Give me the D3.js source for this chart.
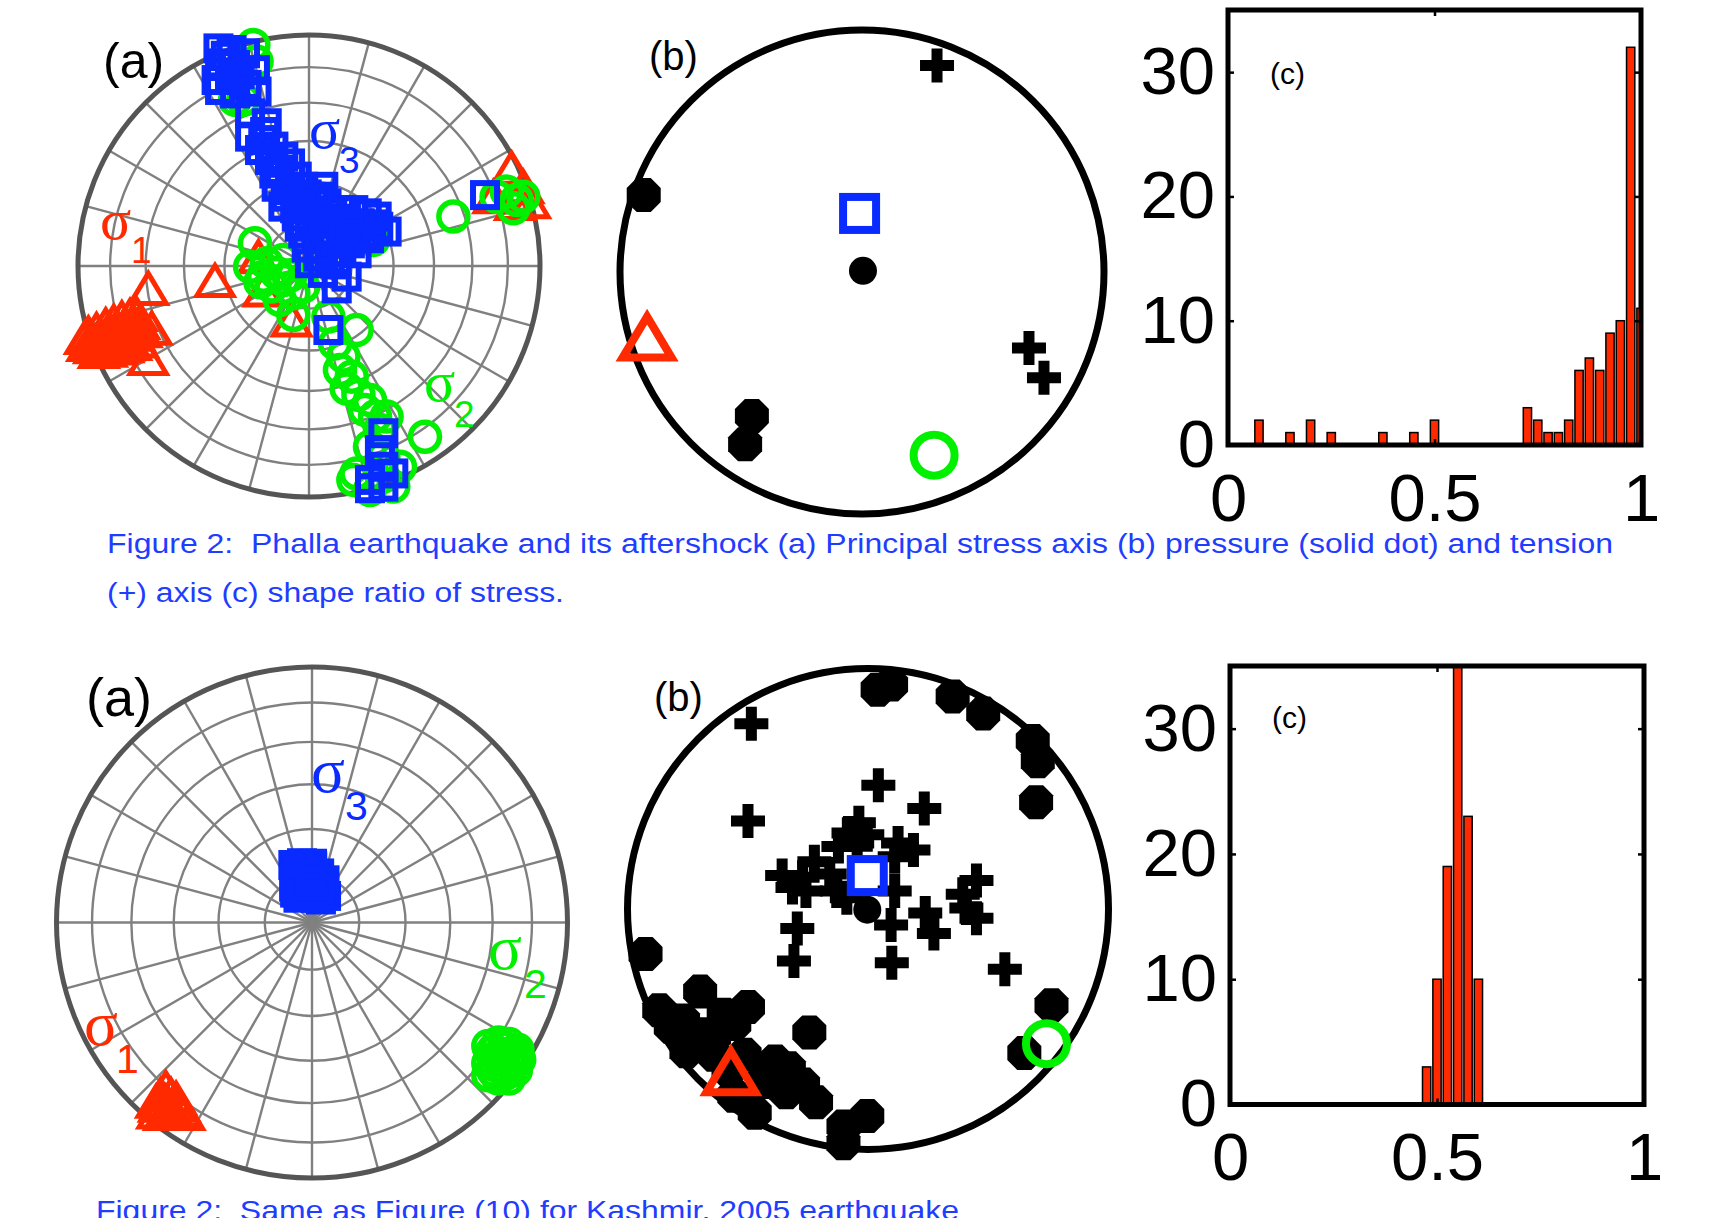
<!DOCTYPE html>
<html>
<head>
<meta charset="utf-8">
<script src="https://cdnjs.cloudflare.com/ajax/libs/d3/7.8.5/d3.min.js"></script>
<style>
body { margin: 0; background: #fff; }
svg { display: block; }
text { font-family: "Liberation Sans", Arial, Helvetica, sans-serif; }
</style>
</head>
<body>
<svg id="fig" width="1709" height="1218"></svg>
<script>
// ---- data (stereonet positions in % of net radius, x east / y north) ----

// top panel (a): Phalla
let topSigma1 = [
  [-95.5,-29],[-92,-27.5],[-88,-25.5],[-84.5,-24],[-81,-22.5],[-77.5,-21.5],[-74.5,-21],
  [-94,-32],[-90.5,-30.5],[-87,-29],[-83.5,-28],[-80,-26.5],[-76.5,-25],[-73.5,-24.5],
  [-93,-35],[-89.5,-34],[-86,-33],[-82.5,-31.5],[-79,-30.5],[-75.5,-29.5],[-72.5,-28],
  [-91,-37],[-87.5,-36.5],[-84,-35.5],[-80.5,-34.5],[-77,-33.5],[-74,-32.5],[-97,-31],[-96,-34],
  [-69.6,-9.7],[-68.1,-27],[-69.6,-40],[-40.7,-6.3],[-21.9,4.0],[-19.8,-10.4],[-7.5,-23.4],
  [87.7,42.3],[92.8,34.3],[95.7,27.8],[89.2,27.1],[79.8,30.0]
];
let topSigma2 = [
  [-24.1,95.7],[-22.7,88.5],[-28.4,71.9],[-32.0,71.9],
  [-23.4,9.8],[-25.5,-0.3],[-19.8,-4.6],[-16.2,-8.9],[-11.1,-6.1],[-6.8,-11.8],[-2.5,-8.9],
  [-12.6,-14.7],[-6.8,-21.2],[-18.3,1.2],[-11.1,2.6],[-14,-3],[-21,-7],[-8,-4],
  [62.5,21.4],[81.2,30.0],[85.6,32.2],[89.9,28.6],[88.5,25.0],[92.8,30.0],[27.8,11.3],
  [8.4,-21.9],[20.6,-27.7],[11.3,-33.5],[14.9,-39.2],[13.4,-45.0],[18.5,-47.9],[16.3,-53.0],
  [21.4,-55.8],[26.4,-58.0],[24.2,-62.3],[28.6,-65.2],[33.6,-65.2],[30.7,-71.0],[50.2,-73.9],
  [26.4,-78.2],[32.2,-82.5],[20.6,-89.8],[32.2,-91.2],[39.4,-86.9],[36.5,-95.5],[26.4,-97.0],[19.2,-92.6]
];
let topSigma3 = [
  [-39.2,94.2],[-33.5,93.5],[-27.7,92.1],[-38.5,87.7],[-32.0,87.0],[-23.4,84.8],[-40.0,80.5],
  [-34.2,80.5],[-27.0,78.4],[-38.5,76.2],[-22.7,75.5],[-32.0,74.7],[-36,91],[-30,83],
  [-25.5,66.1],[-18.3,61.8],[-25.5,56.0],[-19.8,54.5],[-21.2,50.2],[-15.4,51.7],[-16.9,45.9],
  [-11.1,47.3],[-12.6,41.6],[-8.2,44.4],[-5.3,38.7],[-2.5,34.3],[-8.2,32.9],[-3.9,28.6],[1.9,28.6],
  [7.6,27.1],[13.4,24.2],[19.2,24.2],[25.0,22.8],[29.3,21.4],[33.6,14.9],[-5.3,21.4],[0.4,19.9],
  [6.2,19.9],[12.0,18.5],[17.7,17.0],[23.5,14.1],[-2.5,14.1],[3.3,12.7],[10.5,11.3],[17.7,9.8],
  [20.6,5.5],[0.4,1.2],[12.0,2.6],[16.3,-4.6],[12.0,-9.7],[8.4,-27.7],[76.2,30.7],[6.2,34.3],
  [-14.0,34.3],[-11.1,25.7],
  [2,24],[10,23],[16,20.5],[22,18.5],[27,18],[-1,8],[6,8],[14,6],[8,15],[4,4],[15,14],
  [20,12],[26,12],[30,17],[-8,38],[-10,30],[-6,25],[-1,31],[4,30],[-4,17],[9,3],[6,-3],[-15,40],[-19,58],
  [32.2,-72.4],[30.7,-79.7],[32.2,-86.9],[36.5,-89.8],[26.4,-92.6],[32.2,-95.5],[26.4,-96.2]
];

// bottom panel (a): Kashmir 2005
let botSigma1 = [
  [-57.2,-64.7],[-59.2,-67.4],[-55.2,-67.4],[-61,-70],[-57.5,-70],[-53.5,-70.5],[-59.9,-71.5],
  [-55.9,-71.5],[-51.8,-71.5],[-60.6,-74.2],[-57.9,-74.8],[-53.9,-74.8],[-49.9,-74.8],
  [-53.2,-68.8],[-51.1,-73.5],[-56.5,-73],[-58.5,-69.5]
];
let botSigma2 = [
  [69.0,-48.3],[73.0,-47.0],[77.1,-47.6],[80.4,-49.7],[81.1,-53.7],[79.8,-57.8],[77.1,-61.1],
  [73.0,-61.1],[69.0,-59.8],[69.0,-55.1],[73.0,-52.4],[77.1,-53.7],[74.4,-57.1],[70.3,-51.0],[78.4,-51.0],
  [71,-50],[75,-49],[79,-55],[72,-56],[76,-59],[71,-58],[75,-54],[80,-52]
];
let botSigma3 = [
  [-7.3,22.5],[-3.9,23.2],[0.1,21.9],[2.8,19.2],[4.9,16.5],[4.2,12.4],[1.5,9.7],[-2.6,10.4],
  [-6.6,11.7],[-5.9,16.5],[-2.6,17.8],[0.8,15.1],[-3.9,13.8],[3.5,9.0],[-6.6,20.5],[-1.2,19.8],
  [1.5,12.4],[-5.3,9.7],[5.5,10.4],[-4.5,20],[2,17],[-1,12.5],[-4.5,11],[3,14],[-7,14],[0,23],[-0.5,16]
];

// panel (b): P axes (solid dots), T axes (+), best solution markers
let topPAxes = [[-90.2,31.8],[-45.5,-59.5],[-48.3,-71.2]];
let topTAxes = [[31.0,85.3],[69.0,-31.4],[75.2,-43.7]];
let topBestP = [0.4,0.5];
let topBestS1 = [-88.8,-26.9];
let topBestS2 = [29.8,-75.7];
let topBestS3 = [-1.0,24.2];

let botPAxes = [
  [4.0,91.2],[9.6,93.3],[35.2,88.4],[47.9,81.3],[68.5,69.9],[70.6,61.4],[69.9,44.4],[-92.5,-18.7],
  [-86.8,-42.1],[-69.8,-34.3],[-76.9,-46.4],[-49.9,-40.7],[-55.6,-47.8],[-69.8,-52.1],[-75.5,-59.1],
  [-64.1,-60.6],[-51.3,-60.6],[-38.6,-63.4],[-32.9,-66.2],[-44.0,-71.9],[-34.0,-76.2],[-21.6,-80.4],
  [-47.1,-84.7],[-10.2,-90.4],[-0.3,-86.1],[-10.2,-97.4],[-24.4,-51.3],[-55.6,-77.6],[76.3,-40.0],[65.0,-59.9],
  [-60,-44],[-82,-49],[-64,-53],[-40,-70],[-27,-73],[-58,-67]
];
let botTAxes = [
  [-48.5,77.0],[-49.9,36.6],[4.3,51.5],[23.4,41.8],[-3.8,35.9],[-8.1,31.6],[-0.3,30.9],[-12.3,26.0],
  [-4.5,27.4],[12.5,27.4],[18.9,24.5],[-22.3,19.6],[-35.7,13.9],[-27.2,13.2],[-31.4,8.9],[-25.8,7.5],
  [-15.9,14.6],[-13.0,7.5],[-8.8,4.7],[11.1,7.5],[11.1,21.7],[45.1,11.8],[39.4,6.1],[45.1,-3.8],
  [40.9,0.4],[23.8,-1.7],[27.4,-10.2],[9.6,-6.7],[-29.4,-8.1],[-30.8,-21.6],[9.9,-22.3],[56.9,-25.1]
];
let botBestP = [-0.3,-0.3];
let botBestS1 = [-57.0,-67.7];
let botBestS2 = [74.2,-56.0];
let botBestS3 = [-0.3,13.9];

// panel (c): shape ratio histograms
let histTopBins   = [0.075,0.15,0.2,0.25,0.375,0.45,0.5,0.725,0.75,0.775,0.8,0.825,0.85,0.875,0.9,0.925,0.95,0.975,1.0];
let histTopCounts = [2,1,2,1,1,1,2,3,2,1,1,2,6,7,6,9,10,32,11];
let histBotBins   = [0.475,0.5,0.525,0.55,0.575,0.6];
let histBotCounts = [3,10,19,38,23,10];
let yTickValues = [0,10,20,30];
let xTickValues = [0,0.5,1];
let xTickLabels = ["0","0.5","1"];

let ringDips = [15,30,45,60,75];

// ---- colours ----
let RED = "#ff2a00", GREEN = "#00f000", BLUE = "#0a2bff";

let svg = d3.select("#fig");

function triPath(w,h){ return "M0,"+(-h/2)+"L"+(w/2)+","+(h/2)+"L"+(-w/2)+","+(h/2)+"Z"; }
function octPath(d){
  let r = d/2/Math.cos(Math.PI/8);
  let pts = d3.range(8).map(k => [r*Math.cos(Math.PI/8+k*Math.PI/4), r*Math.sin(Math.PI/8+k*Math.PI/4)]);
  return "M"+pts.join("L")+"Z";
}
function crossPath(a,t){
  let p = [[-t,-a],[t,-a],[t,-t],[a,-t],[a,t],[t,t],[t,a],[-t,a],[-t,t],[-a,t],[-a,-t],[-t,-t]];
  return "M"+p.join("L")+"Z";
}

function netScales(cx,cy,R){
  return {
    x: d3.scaleLinear().domain([-100,100]).range([cx-R,cx+R]),
    y: d3.scaleLinear().domain([-100,100]).range([cy+R,cy-R])
  };
}

// equal-area net with 15 degree rings and spokes
function drawNet(cx,cy,R,s1,s2,s3){
  let g = svg.append("g");
  let sc = netScales(cx,cy,R);
  ringDips.forEach(function(d){
    g.append("circle").attr("cx",cx).attr("cy",cy)
      .attr("r", R*Math.SQRT2*Math.sin(d/2*Math.PI/180))
      .attr("fill","none").attr("stroke","#808080").attr("stroke-width",2.4);
  });
  d3.range(0,360,15).forEach(function(az){
    let a = az*Math.PI/180;
    g.append("line").attr("x1",cx).attr("y1",cy)
      .attr("x2",cx+R*Math.sin(a)).attr("y2",cy-R*Math.cos(a))
      .attr("stroke","#808080").attr("stroke-width",2.4);
  });
  g.append("circle").attr("cx",cx).attr("cy",cy).attr("r",R)
    .attr("fill","none").attr("stroke","#555").attr("stroke-width",5);

  g.selectAll(".s1").data(s1).enter().append("path")
    .attr("d",triPath(36,30))
    .attr("transform",d => "translate("+sc.x(d[0])+","+sc.y(d[1])+")")
    .attr("fill","none").attr("stroke",RED).attr("stroke-width",5);
  g.selectAll(".s2").data(s2).enter().append("circle")
    .attr("cx",d => sc.x(d[0])).attr("cy",d => sc.y(d[1])).attr("r",14.5)
    .attr("fill","none").attr("stroke",GREEN).attr("stroke-width",5.5);
  g.selectAll(".s3").data(s3).enter().append("rect")
    .attr("x",d => sc.x(d[0])-12).attr("y",d => sc.y(d[1])-12)
    .attr("width",24).attr("height",24)
    .attr("fill","none").attr("stroke",BLUE).attr("stroke-width",6);
  return g;
}

function sigmaLabel(x,y,sub,subX,subY,size,subSize,color){
  svg.append("text").attr("x",x).attr("y",y).text("σ")
    .style("font-family","'Liberation Serif','DejaVu Serif',serif")
    .style("font-size",size+"px").attr("fill",color);
  svg.append("text").attr("x",subX).attr("y",subY).text(sub)
    .style("font-size",subSize+"px").attr("fill",color);
}

function drawBeach(cx,cy,R,pAxes,tAxes,bestP,s1,s2,s3){
  let g = svg.append("g");
  let sc = netScales(cx,cy,R);
  g.append("circle").attr("cx",cx).attr("cy",cy).attr("r",R)
    .attr("fill","none").attr("stroke","#000").attr("stroke-width",7);
  g.selectAll(".p").data(pAxes).enter().append("path")
    .attr("d",octPath(34))
    .attr("transform",d => "translate("+sc.x(d[0])+","+sc.y(d[1])+")")
    .attr("fill","#000");
  g.selectAll(".t").data(tAxes).enter().append("path")
    .attr("d",crossPath(17,5.5))
    .attr("transform",d => "translate("+sc.x(d[0])+","+sc.y(d[1])+")")
    .attr("fill","#000");
  g.append("circle").attr("cx",sc.x(bestP[0])).attr("cy",sc.y(bestP[1])).attr("r",14).attr("fill","#000");
  g.append("rect").attr("x",sc.x(s3[0])-16.5).attr("y",sc.y(s3[1])-16.5)
    .attr("width",33).attr("height",33)
    .attr("fill","none").attr("stroke",BLUE).attr("stroke-width",8);
  g.append("path").attr("d",triPath(49,41))
    .attr("transform","translate("+sc.x(s1[0])+","+sc.y(s1[1])+")")
    .attr("fill","none").attr("stroke",RED).attr("stroke-width",8);
  g.append("circle").attr("cx",sc.x(s2[0])).attr("cy",sc.y(s2[1])).attr("r",20.5)
    .attr("fill","none").attr("stroke",GREEN).attr("stroke-width",8);
}

let clipId = 0;
function drawHist(left,top,right,bottom,bins,counts){
  let x = d3.scaleLinear().domain([0,1]).range([left,right]);
  let y = d3.scaleLinear().domain([0,35]).range([bottom,top]);
  let g = svg.append("g");
  clipId++;
  svg.append("clipPath").attr("id","hc"+clipId).append("rect")
    .attr("x",left).attr("y",top).attr("width",right-left).attr("height",bottom-top);
  let bw = 0.02;
  g.append("g").attr("clip-path","url(#hc"+clipId+")")
    .selectAll("rect").data(bins).enter().append("rect")
    .attr("x",d => x(d-bw/2)).attr("width",x(bw)-x(0))
    .attr("y",(d,i) => y(counts[i])).attr("height",(d,i) => y(0)-y(counts[i]))
    .attr("fill",RED).attr("stroke","#000").attr("stroke-width",1.5);

  let yAxis = d3.axisLeft(y).tickValues(yTickValues).tickSize(-6).tickPadding(13);
  let yR = d3.axisRight(y).tickValues(yTickValues).tickSize(-6).tickFormat("");
  let xAxis = d3.axisBottom(x).tickValues(xTickValues).tickSize(-6).tickPadding(28)
    .tickFormat((d,i) => xTickLabels[i]);
  let xT = d3.axisTop(x).tickValues(xTickValues).tickSize(-6).tickFormat("");
  [[yAxis,"translate("+left+",0)"],[yR,"translate("+right+",0)"],
   [xAxis,"translate(0,"+bottom+")"],[xT,"translate(0,"+top+")"]].forEach(function(a){
    let ax = g.append("g").attr("transform",a[1]).call(a[0]);
    ax.select(".domain").remove();
    ax.selectAll("line").attr("stroke","#000").attr("stroke-width",2.5);
    ax.selectAll("text").style("font-size","67px")
      .style("font-family","'Liberation Sans',Arial,sans-serif").attr("fill","#000");
  });
  g.append("rect").attr("x",left).attr("y",top).attr("width",right-left).attr("height",bottom-top)
    .attr("fill","none").attr("stroke","#000").attr("stroke-width",5);
}

// ---- top row: Phalla ----
drawNet(309,266,231,topSigma1,topSigma2,topSigma3);
sigmaLabel(309,148,"3",339,173,58,37,BLUE);
sigmaLabel(100,239,"1",131,263,58,37,RED);
sigmaLabel(424,401,"2",454,427,58,37,GREEN);
svg.append("text").attr("x",103).attr("y",78).text("(a)").style("font-size","50px");

drawBeach(862,272,242,topPAxes,topTAxes,topBestP,topBestS1,topBestS2,topBestS3);
svg.append("text").attr("x",649).attr("y",70).text("(b)").style("font-size","40px");

drawHist(1228,10,1641,445,histTopBins,histTopCounts);
svg.append("text").attr("x",1270).attr("y",84).text("(c)").style("font-size","30px");

// ---- bottom row: Kashmir ----
drawNet(312,922.5,255.5,botSigma1,botSigma2,botSigma3);
sigmaLabel(311,792,"3",345,820,63,41,BLUE);
sigmaLabel(488,969,"2",524,998,63,41,GREEN);
sigmaLabel(84,1045,"1",116,1073,63,41,RED);
svg.append("text").attr("x",86).attr("y",716).text("(a)").style("font-size","54px");

drawBeach(868,909,240.5,botPAxes,botTAxes,botBestP,botBestS1,botBestS2,botBestS3);
svg.append("text").attr("x",654).attr("y",711).text("(b)").style("font-size","40px");

drawHist(1230,666,1644,1104.5,histBotBins,histBotCounts);
svg.append("text").attr("x",1272).attr("y",728).text("(c)").style("font-size","30px");

// ---- captions ----
let CAP = "#1f3dff";
svg.append("text").attr("x",107).attr("y",553)
  .text("Figure 2:  Phalla earthquake and its aftershock (a) Principal stress axis (b) pressure (solid dot) and tension")
  .attr("textLength",1506).attr("lengthAdjust","spacingAndGlyphs")
  .style("white-space","pre").style("font-size","27px").attr("fill",CAP);
svg.append("text").attr("x",107).attr("y",602)
  .text("(+) axis (c) shape ratio of stress.")
  .attr("textLength",457).attr("lengthAdjust","spacingAndGlyphs")
  .style("font-size","27px").attr("fill",CAP);
svg.append("text").attr("x",96).attr("y",1220)
  .text("Figure 2:  Same as Figure (10) for Kashmir, 2005 earthquake")
  .attr("textLength",863).attr("lengthAdjust","spacingAndGlyphs")
  .style("white-space","pre").style("font-size","28px").attr("fill",CAP);
</script>
</body>
</html>
